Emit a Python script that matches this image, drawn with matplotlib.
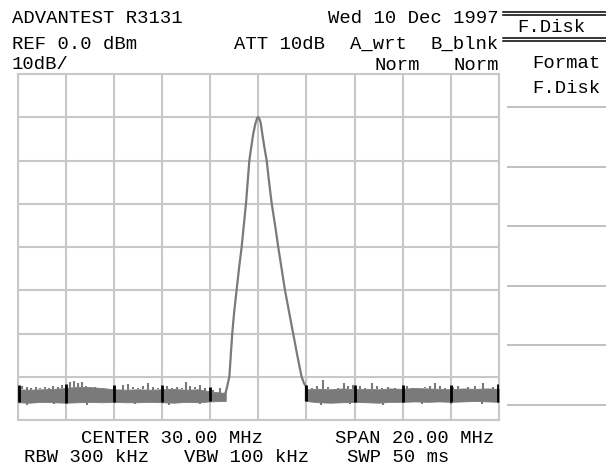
import matplotlib
matplotlib.use("Agg")
import matplotlib.pyplot as plt
import numpy as np

# ---------------- data (read from the screen) ----------------
# main signal trace around the 30 MHz carrier (MHz, dBm)
peak_freq = [28.65, 28.72, 28.80, 28.86, 28.92, 29.00, 29.10, 29.20, 29.31, 29.40,
             29.49, 29.56, 29.63, 29.72, 29.79, 29.88, 29.96, 30.00, 30.05, 30.10,
             30.17, 30.25, 30.35, 30.45, 30.56, 30.70, 30.83, 30.97, 31.11, 31.28,
             31.45, 31.62, 31.80, 31.90, 31.98, 31.98]
peak_dbm = [-73.6, -72.0, -70.0, -65.0, -60.0, -55.0, -50.0, -45.0, -40.0, -35.0,
            -30.0, -25.0, -20.0, -16.5, -13.9, -11.5, -10.1, -10.0, -10.4, -11.2,
            -13.9, -16.8, -20.0, -25.0, -30.0, -35.0, -40.0, -45.0, -50.0, -55.0,
            -60.0, -65.0, -70.0, -71.5, -72.2, -75.4]

# noise floor band (MHz, top / bottom in dBm)
noise_left_freq = [20.0, 20.5, 21.0, 21.5, 22.0, 22.5, 23.0, 23.5, 24.0, 24.5,
                   25.0, 25.5, 26.0, 26.5, 27.0, 27.5, 28.0, 28.5, 28.65]
noise_left_top = [-72.9, -73.0, -72.9, -72.8, -72.6, -72.3, -72.4, -72.6, -72.9, -73.0,
                  -72.9, -73.0, -72.9, -72.8, -73.0, -72.9, -73.4, -73.7, -73.6]
noise_left_bot = [-75.9, -76.0, -75.8, -75.9, -76.0, -75.9, -75.8, -75.9, -75.8, -75.9,
                  -75.9, -75.8, -75.9, -76.0, -75.8, -75.9, -75.7, -75.6, -75.6]

noise_right_freq = [31.98, 32.5, 33.0, 33.5, 34.0, 34.5, 35.0, 35.5, 36.0, 36.5,
                    37.0, 37.5, 38.0, 38.5, 39.0, 39.5, 40.0]
noise_right_top = [-72.9, -72.8, -72.9, -72.7, -72.9, -72.8, -72.9, -72.7, -72.8, -72.6,
                   -72.7, -72.8, -72.9, -72.7, -72.8, -72.7, -72.8]
noise_right_bot = [-75.6, -75.9, -76.0, -75.9, -75.8, -75.9, -76.0, -75.8, -75.8, -75.7,
                   -75.8, -75.7, -75.8, -75.7, -75.6, -75.7, -75.8]

# upward noise spikes (MHz, dBm)
spike_freq = [20.17, 20.38, 20.56, 20.76, 20.93, 21.14, 21.31, 21.49, 21.69, 21.86,
              22.18, 22.36, 22.53, 22.67, 22.83, 23.01, 23.22, 23.43, 23.63, 23.84,
              24.39, 24.60, 24.81, 25.02, 25.23, 25.43, 25.64, 25.85, 26.20, 26.40,
              26.61, 26.82, 27.00, 27.17, 27.37, 27.58, 27.79, 28.13, 28.41,
              32.22, 32.43, 32.70, 32.91, 33.12, 33.33, 33.57, 33.74, 33.95, 34.23,
              34.43, 34.71, 34.92, 35.13, 35.40, 35.68,
              36.17, 36.37, 36.65, 36.93, 37.13, 37.34, 37.55, 37.76, 38.10, 38.31,
              38.52, 38.72, 39.00, 39.35, 39.56, 39.76]
spike_dbm = [-72.07, -72.3, -72.67, -72.3, -72.5, -72.3, -72.67, -72.07, -72.3, -71.9,
             -71.3, -71.0, -71.5, -71.15, -72.07, -72.67, -72.3, -72.67, -72.5, -72.8,
             -71.9, -71.75, -72.3, -72.67, -72.07, -71.5, -72.3, -72.67, -72.07, -72.67,
             -72.3, -72.67, -71.15, -72.07, -72.3, -71.9, -72.67, -73.06, -72.67,
             -72.67, -72.07, -70.75, -72.3, -72.8, -72.5, -71.5, -72.07, -71.9, -72.07,
             -72.5, -71.5, -72.07, -72.5, -72.3, -72.5,
             -72.07, -72.8, -72.5, -72.3, -72.07, -71.5, -72.07, -72.5, -72.3, -72.07,
             -72.5, -72.3, -72.07, -71.5, -72.5, -72.3]

# downward noise dips (MHz, dBm)
dip_freq = [20.4, 21.5, 22.9, 24.9, 26.3, 27.6, 32.6, 33.8, 35.2, 36.8, 38.0, 39.3]
dip_dbm = [-76.5, -76.4, -76.6, -76.4, -76.5, -76.3, -76.5, -76.4, -76.5, -76.3, -76.4, -76.3]

# screen annotations
header_texts = ["ADVANTEST R3131", "Wed 10 Dec 1997", "REF 0.0 dBm", "ATT 10dB",
                "A_wrt", "B_blnk", "10dB/", "Norm", "Norm"]
footer_texts = ["CENTER 30.00 MHz", "SPAN 20.00 MHz", "RBW 300 kHz", "VBW 100 kHz", "SWP 50 ms"]
menu_title = "F.Disk"
menu_items = ["Format", "F.Disk"]

# ---------------- drawing ----------------
W, H = 606, 468
fig = plt.figure(figsize=(W / 100, H / 100), dpi=100)
fig.patch.set_facecolor("white")

def fx(x):
    return x / W

def fy(y):
    return 1 - y / H

L, R, T, B = 17.5, 499.0, 74.0, 420.0
ax = fig.add_axes([fx(L), fy(B), (R - L) / W, (B - T) / H])
ax.set_xlim(20, 40)
ax.set_ylim(-80, 0)
ax.set_xticks(np.arange(20, 41, 2))
ax.set_yticks(np.arange(-80, 1, 10))
ax.tick_params(length=0, labelbottom=False, labelleft=False)
grid_c = "#c8c8c8"
ax.grid(True, color=grid_c, lw=1.5)
ax.set_axisbelow(True)
for s in ax.spines.values():
    s.set_color(grid_c)
    s.set_linewidth(1.5)

trace_c = "#7a7a7a"
# noise band
ax.fill_between(noise_left_freq, noise_left_bot, noise_left_top, color=trace_c, lw=0.6,
                edgecolor=trace_c, zorder=3)
ax.fill_between(noise_right_freq, noise_right_bot, noise_right_top, color=trace_c, lw=0.6,
                edgecolor=trace_c, zorder=3)
band_f = noise_left_freq + noise_right_freq
band_t = noise_left_top + noise_right_top
band_b = noise_left_bot + noise_right_bot
sf = np.array(spike_freq)
ax.vlines(sf, np.interp(sf, band_f, band_t), spike_dbm, color=trace_c, lw=1.5, zorder=3)
dfq = np.array(dip_freq)
ax.vlines(dfq, np.interp(dfq, band_f, band_b), dip_dbm, color=trace_c, lw=1.5, zorder=3)

# signal
ax.plot(peak_freq, peak_dbm, color=trace_c, lw=1.6, zorder=4, solid_joinstyle="miter")

# dark marks where the trace crosses the vertical graticule
gx = np.array([20.05, 22, 24, 26, 28, 32, 34, 36, 38, 39.95])
ax.vlines(gx, np.interp(gx, band_f, band_b), np.interp(gx, band_f, band_t) + 1.0,
          color="black", lw=2.0, zorder=5)

# ---------------- text ----------------
font = dict(family="Liberation Mono", fontsize=13.6, color="black")

def txt(x, y, s, ha="left"):
    fig.text(fx(x), fy(y), s, ha=ha, va="baseline", **font)

txt(12, 22.7, header_texts[0])
txt(499, 22.7, header_texts[1], ha="right")
txt(12, 49.3, header_texts[2])
txt(234, 49.3, header_texts[3])
txt(350, 49.3, header_texts[4])
txt(499, 49.3, header_texts[5], ha="right")
txt(12, 69.3, header_texts[6])
txt(374, 70, header_texts[7])
txt(499, 70, header_texts[8], ha="right")

txt(81, 443.3, footer_texts[0])
txt(335, 443.3, footer_texts[1])
txt(24, 461.7, footer_texts[2])
txt(184, 461.7, footer_texts[3])
txt(347, 461.7, footer_texts[4])

# soft-key menu
txt(517, 31.7, menu_title)
txt(532, 68.3, menu_items[0])
txt(532, 93.3, menu_items[1])

for yy in (11.7, 15.2, 37.7, 41.4):
    fig.add_artist(plt.Line2D([fx(503), fx(606)], [fy(yy), fy(yy)], color="black", lw=1.1))
for yy in (107, 167, 226, 286, 345, 405):
    fig.add_artist(plt.Line2D([fx(508), fx(606)], [fy(yy), fy(yy)], color="#c0c0c0", lw=1.4))

fig.savefig("out.png", dpi=100, facecolor="white")
